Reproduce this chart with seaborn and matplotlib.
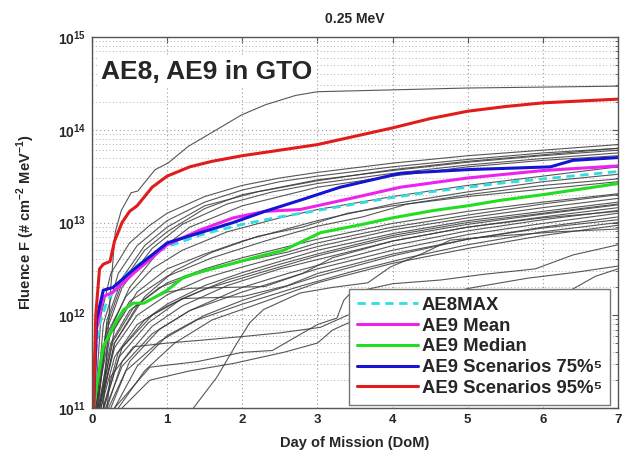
import numpy as np
import pandas as pd
import matplotlib
matplotlib.use("Agg")
import matplotlib.pyplot as plt
import seaborn as sns

# ---------------- data (log10 fluence) ----------------
ae8max_day = [0.02, 0.05, 0.1, 0.2, 0.4, 0.7, 1.0, 1.5, 2.0, 2.5, 3.0, 3.5, 4.0, 4.5, 5.0, 5.5, 6.0, 6.5, 7.0]
ae8max_log = [11.0, 11.6, 11.9, 12.15, 12.4, 12.6, 12.74, 12.88, 12.98, 13.06, 13.13, 13.2, 13.27, 13.33, 13.38, 13.43, 13.47, 13.51, 13.55]

mean_day = [0.02, 0.06, 0.15, 0.28, 0.55, 1.0, 1.44, 1.88, 2.3, 2.77, 3.5, 4.1, 5.0, 6.0, 7.0]
mean_log = [11.0, 11.85, 12.2, 12.25, 12.45, 12.76, 12.92, 13.05, 13.12, 13.14, 13.27, 13.38, 13.48, 13.56, 13.61]

median_day = [0.02, 0.06, 0.15, 0.3, 0.42, 0.55, 0.69, 0.85, 1.0, 1.22, 1.5, 1.88, 2.2, 2.55, 3.04, 3.6, 4.0, 4.55, 5.0, 5.44, 6.0, 6.5, 7.0]
median_log = [11.0, 11.23, 11.66, 11.9, 12.06, 12.13, 12.13, 12.2, 12.27, 12.41, 12.48, 12.56, 12.63, 12.7, 12.89, 12.98, 13.05, 13.13, 13.18, 13.24, 13.3, 13.36, 13.42]

p75_day = [0.02, 0.06, 0.15, 0.28, 0.55, 1.0, 1.44, 1.88, 2.3, 2.77, 3.3, 4.1, 5.0, 6.1, 6.4, 7.0]
p75_log = [11.0, 11.95, 12.27, 12.3, 12.49, 12.78, 12.89, 13.0, 13.12, 13.24, 13.38, 13.53, 13.57, 13.6, 13.67, 13.7]

p95_day = [0.02, 0.05, 0.1, 0.15, 0.24, 0.3, 0.4, 0.5, 0.6, 0.8, 1.0, 1.3, 1.6, 2.0, 2.5, 3.0, 3.5, 4.0, 4.5, 5.0, 5.5, 6.0, 6.5, 7.0]
p95_log = [11.0, 12.0, 12.5, 12.55, 12.58, 12.8, 13.0, 13.12, 13.18, 13.38, 13.5, 13.6, 13.66, 13.72, 13.78, 13.84, 13.93, 14.02, 14.12, 14.2, 14.25, 14.29, 14.31, 14.33]

legend_labels = ["AE8MAX", "AE9 Mean", "AE9 Median", "AE9 Scenarios 75%\u2075", "AE9 Scenarios 95%\u2075"]

# individual scenario runs: (day, log10 fluence) knots
scenarios = [
    [(0.15, 11.0), (0.25, 12.3), (0.31, 12.9), (0.39, 13.13), (0.52, 13.32), (0.61, 13.34), (0.84, 13.57), (1.01, 13.64), (1.28, 13.82), (1.72, 14.03), (1.99, 14.16), (2.31, 14.27), (2.71, 14.37), (3.0, 14.41), (4.0, 14.43), (5.0, 14.45), (6.0, 14.46), (7.0, 14.47)],
    [(0.04, 11.0), (0.12, 12.0), (0.25, 12.45), (0.5, 12.78), (0.77, 12.97), (1.0, 13.1), (1.5, 13.28), (2.0, 13.4), (2.5, 13.48), (3.0, 13.54), (3.5, 13.59), (4.0, 13.64), (5.0, 13.72), (6.0, 13.78), (7.0, 13.84)],
    [(0.06, 11.0), (0.15, 11.9), (0.35, 12.45), (0.6, 12.75), (1.0, 13.02), (1.5, 13.22), (2.0, 13.35), (2.5, 13.44), (3.0, 13.5), (4.0, 13.6), (5.0, 13.68), (6.0, 13.75), (7.0, 13.8)],
    [(0.08, 11.0), (0.2, 11.9), (0.4, 12.35), (0.7, 12.7), (1.0, 12.9), (1.5, 13.15), (2.0, 13.3), (3.0, 13.46), (4.0, 13.56), (5.0, 13.65), (6.0, 13.72), (7.0, 13.78)],
    [(0.05, 11.0), (0.18, 11.8), (0.4, 12.3), (0.8, 12.72), (1.2, 12.98), (1.8, 13.2), (2.4, 13.33), (3.0, 13.42), (4.0, 13.53), (5.0, 13.62), (6.0, 13.69), (7.0, 13.75)],
    [(0.1, 11.0), (0.25, 11.85), (0.5, 12.3), (0.9, 12.7), (1.3, 12.95), (2.0, 13.18), (3.0, 13.38), (4.0, 13.5), (5.0, 13.6), (6.0, 13.67), (7.0, 13.72)],
    [(0.07, 11.0), (0.2, 11.95), (0.4, 12.4), (0.7, 12.75), (1.0, 12.95), (1.5, 13.18), (2.2, 13.33), (3.0, 13.45), (4.0, 13.57), (5.0, 13.66), (6.0, 13.73), (7.0, 13.8)],
    [(0.07, 11.0), (0.2, 11.8), (0.45, 12.2), (0.8, 12.5), (1.2, 12.7), (1.8, 12.9), (2.5, 13.05), (3.0, 13.14), (4.0, 13.28), (5.0, 13.4), (6.0, 13.5), (7.0, 13.6)],
    [(0.1, 11.0), (0.3, 11.85), (0.6, 12.25), (1.0, 12.5), (1.5, 12.66), (2.0, 12.8), (3.0, 13.02), (4.0, 13.2), (5.0, 13.33), (6.0, 13.44), (7.0, 13.52)],
    [(0.05, 11.0), (0.22, 11.75), (0.5, 12.15), (1.0, 12.42), (1.6, 12.62), (2.3, 12.8), (3.0, 12.96), (3.6, 13.06), (4.2, 13.2), (5.0, 13.3), (6.0, 13.4), (7.0, 13.47)],
    [(0.12, 11.0), (0.3, 11.7), (0.7, 12.2), (1.1, 12.48), (1.6, 12.68), (2.2, 12.85), (2.8, 12.95), (3.4, 13.1), (4.0, 13.18), (5.0, 13.28), (6.0, 13.36), (7.0, 13.44)],
    [(0.08, 11.0), (0.25, 11.7), (0.5, 12.05), (0.9, 12.3), (1.4, 12.45), (2.0, 12.58), (2.6, 12.68), (3.0, 12.78), (4.0, 12.95), (5.0, 13.08), (6.0, 13.2), (7.0, 13.3)],
    [(0.1, 11.0), (0.3, 11.65), (0.6, 12.0), (1.0, 12.22), (1.5, 12.4), (2.0, 12.52), (3.0, 12.74), (4.0, 12.92), (5.0, 13.05), (6.0, 13.16), (7.0, 13.26)],
    [(0.15, 11.0), (0.35, 11.6), (0.7, 11.95), (1.0, 12.12), (1.5, 12.32), (2.0, 12.46), (3.0, 12.7), (4.0, 12.88), (5.0, 13.02), (6.0, 13.12), (7.0, 13.22)],
    [(0.12, 11.0), (0.3, 11.55), (0.6, 11.9), (1.0, 12.1), (1.5, 12.28), (2.2, 12.45), (3.0, 12.64), (4.0, 12.84), (5.0, 12.98), (6.0, 13.09), (7.0, 13.19)],
    [(0.2, 11.0), (0.4, 11.5), (0.8, 11.88), (1.2, 12.1), (1.8, 12.32), (2.5, 12.5), (3.0, 12.6), (4.0, 12.8), (5.0, 12.95), (6.0, 13.06), (7.0, 13.16)],
    [(0.18, 11.0), (0.4, 11.45), (0.8, 11.8), (1.3, 12.05), (2.0, 12.3), (2.6, 12.45), (3.2, 12.58), (4.0, 12.75), (5.0, 12.91), (6.0, 13.03), (7.0, 13.13)],
    [(0.25, 11.0), (0.5, 11.5), (0.9, 11.85), (1.3, 12.05), (2.0, 12.25), (3.0, 12.5), (3.5, 12.6), (4.0, 12.7), (5.0, 12.87), (6.0, 12.99), (7.0, 13.1)],
    [(0.3, 11.0), (0.6, 11.45), (1.0, 11.78), (1.5, 12.0), (2.0, 12.16), (3.0, 12.42), (4.0, 12.64), (5.0, 12.82), (6.0, 12.95), (7.0, 13.06)],
    [(0.22, 11.0), (0.45, 11.4), (0.9, 11.72), (1.4, 11.95), (2.0, 12.12), (2.8, 12.32), (3.5, 12.48), (4.2, 12.62), (5.0, 12.76), (6.0, 12.9), (7.0, 13.0)],
    [(0.35, 11.0), (0.7, 11.4), (1.1, 11.7), (1.6, 11.95), (2.2, 12.12), (3.0, 12.35), (4.0, 12.56), (5.0, 12.72), (6.0, 12.86), (7.0, 12.97)],
    [(0.09, 11.0), (0.28, 11.72), (0.55, 12.08), (1.0, 12.35), (1.5, 12.5), (2.0, 12.62), (3.0, 12.82), (4.0, 12.99), (5.0, 13.12), (6.0, 13.22), (7.0, 13.31)],
    [(0.16, 11.0), (0.36, 11.55), (0.75, 11.92), (1.2, 12.18), (1.8, 12.38), (2.5, 12.55), (3.0, 12.66), (4.0, 12.86), (5.0, 13.0), (6.0, 13.1), (7.0, 13.2)],
    [(0.1, 11.0), (0.3, 11.7), (0.6, 12.1), (1.0, 12.25), (1.3, 12.29), (2.3, 12.31), (2.8, 12.45), (3.2, 12.62), (4.0, 12.8), (5.0, 12.95), (6.0, 13.05), (7.0, 13.12)],
    [(0.15, 11.0), (0.4, 11.65), (0.8, 12.0), (1.2, 12.18), (2.0, 12.2), (2.6, 12.32), (3.0, 12.45), (4.0, 12.66), (5.0, 12.82), (6.0, 12.94), (7.0, 13.03)],
    [(1.35, 11.0), (1.66, 11.33), (1.93, 11.7), (2.1, 11.92), (2.28, 12.06), (2.55, 12.16), (2.77, 12.24), (3.2, 12.3), (3.67, 12.35), (3.97, 12.52), (4.41, 12.67), (4.77, 12.81), (5.5, 12.86), (6.2, 12.9), (7.0, 12.93)],
    [(0.4, 11.0), (0.77, 11.3), (1.3, 11.4), (1.88, 11.48), (2.55, 11.6), (3.0, 11.7), (3.2, 11.84), (3.5, 11.95), (4.0, 12.0), (4.6, 12.05), (5.2, 12.1), (5.8, 12.16), (6.37, 12.27), (6.7, 12.42), (7.0, 12.5)],
    [(0.2, 11.0), (0.24, 11.33), (0.55, 11.66), (1.0, 11.7), (1.44, 11.73), (2.0, 11.77), (2.5, 11.81), (3.04, 11.87), (3.4, 12.0), (4.0, 12.12), (4.6, 12.22), (5.08, 12.3), (5.8, 12.4), (6.41, 12.46), (7.0, 12.53)],
    [(0.3, 11.0), (0.77, 11.44), (1.4, 11.5), (2.0, 11.6), (2.4, 11.62), (3.0, 11.9), (3.26, 11.97), (3.35, 12.16), (3.44, 12.24), (4.0, 12.34), (4.64, 12.38), (5.2, 12.44), (5.9, 12.5), (6.4, 12.65), (7.0, 12.76)],
]

# ---------------- build tables ----------------
rows = []
for i, run in enumerate(scenarios):
    for d, lg in run:
        rows.append({"run": i, "day": d, "fluence": 10.0 ** lg})
runs_df = pd.DataFrame(rows)

def curve(days, logs):
    return pd.DataFrame({"day": days, "fluence": np.power(10.0, logs)})

# ---------------- figure ----------------
sns.set_style("white")
plt.rcParams["font.family"] = ["Liberation Sans", "DejaVu Sans"]
plt.rcParams["mathtext.fontset"] = "custom"
plt.rcParams["mathtext.rm"] = "Liberation Sans"
plt.rcParams["mathtext.bf"] = "Liberation Sans:bold"

fig = plt.figure(figsize=(6.23, 4.53), dpi=100)
ax = fig.add_axes([92 / 623, 1 - 408 / 453, 526 / 623, 371 / 453])
ax.set_yscale("log")

sns.lineplot(data=runs_df, x="day", y="fluence", units="run", estimator=None,
             color="#3a3a3a", lw=0.8, alpha=0.85, sort=False, ax=ax, legend=False)

sns.lineplot(data=curve(ae8max_day, ae8max_log), x="day", y="fluence", ax=ax,
             color="#33dddd", lw=2.0, label=legend_labels[0], sort=False)
ax.lines[-1].set_linestyle((0, (3, 2)))
sns.lineplot(data=curve(mean_day, mean_log), x="day", y="fluence", ax=ax,
             color="#ee22ee", lw=2.2, label=legend_labels[1], sort=False)
sns.lineplot(data=curve(median_day, median_log), x="day", y="fluence", ax=ax,
             color="#22dd22", lw=2.2, label=legend_labels[2], sort=False)
sns.lineplot(data=curve(p75_day, p75_log), x="day", y="fluence", ax=ax,
             color="#1414d2", lw=2.2, label=legend_labels[3], sort=False)
sns.lineplot(data=curve(p95_day, p95_log), x="day", y="fluence", ax=ax,
             color="#e01c1c", lw=2.2, label=legend_labels[4], sort=False)

ax.set_xlim(0, 7)
ax.set_ylim(1e11, 1e15)

# ticks
ax.set_xticks(range(0, 8))
ax.set_xticklabels([str(v) for v in range(0, 8)], fontweight="bold", fontsize=9.5)
yt = [1e11, 1e12, 1e13, 1e14, 1e15]
ax.set_yticks(yt)
ax.set_yticklabels([r"$\mathbf{10}^{\mathbf{%d}}$" % e for e in range(11, 16)], fontsize=10)
ax.yaxis.set_minor_locator(matplotlib.ticker.LogLocator(base=10, subs=np.arange(2, 10), numticks=20))
ax.yaxis.set_minor_formatter(matplotlib.ticker.NullFormatter())
ax.tick_params(which="both", direction="in", top=True, right=True, color="#555555")
ax.tick_params(which="major", length=4, width=0.8, pad=4)
ax.tick_params(which="minor", length=2, width=0.6)

ax.grid(True, which="major", ls=(0, (1, 2.5)), color="#9a9a9a", lw=0.8)
ax.grid(True, which="minor", axis="y", ls=(0, (1, 2.5)), color="#b0b0b0", lw=0.7)
for s in ax.spines.values():
    s.set_color("#555555")
    s.set_linewidth(1.0)

ax.set_xlabel("Day of Mission (DoM)", fontweight="bold", fontsize=10.5)
ax.xaxis.set_label_coords(0.5, -0.075)
ax.set_ylabel(r"Fluence F (# cm$^{\mathbf{-2}}$ MeV$^{\mathbf{-1}}$)", fontweight="bold", fontsize=10.5)
ax.yaxis.set_label_coords(-0.105, 0.5)
ax.set_title("0.25 MeV", fontweight="bold", fontsize=10, pad=10)

ax.text(0.018, 0.907, "AE8, AE9 in GTO", transform=ax.transAxes, fontsize=19,
        fontweight="bold", va="center", ha="left",
        bbox=dict(facecolor="white", edgecolor="none", pad=2))

leg = ax.legend(loc="lower right", bbox_to_anchor=(0.985, 0.008),
                prop={"weight": "bold", "size": 13.3}, frameon=True, fancybox=False,
                edgecolor="#777777", framealpha=1, handlelength=3.3,
                labelspacing=0.2, borderpad=0.45, handletextpad=0.2, borderaxespad=0)
leg.get_frame().set_linewidth(1.0)

fig.savefig("out.png", dpi=100)
